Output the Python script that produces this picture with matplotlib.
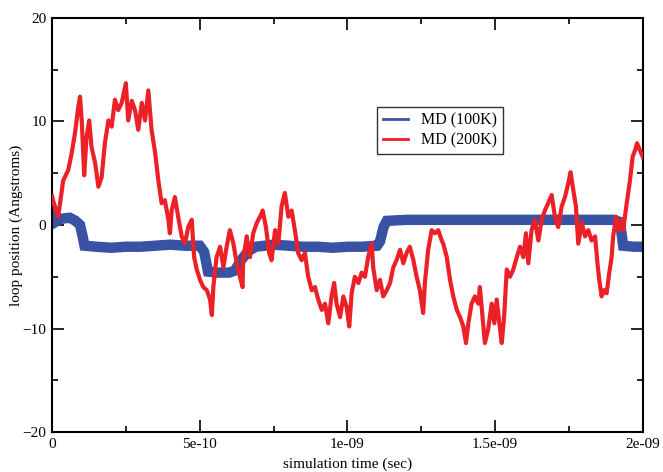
import matplotlib
matplotlib.use("Agg")
import matplotlib.pyplot as plt
from matplotlib.ticker import MultipleLocator, FixedLocator

plt.rcParams['font.family'] = ['Liberation Serif', 'DejaVu Serif']

# time in ps, loop position in Angstroms
t_200k = [0, 7, 21, 38, 55, 67, 78, 89, 95, 101, 109, 117, 126, 134, 146, 157,
          168, 179, 191, 202, 213, 224, 236, 250, 258, 270, 281, 292, 304, 315,
          326, 337, 349, 360, 371, 382, 394, 399, 405, 416, 427, 439, 450, 461,
          473, 481, 490, 501, 512, 524, 535, 541, 546, 557, 569, 580, 591, 602,
          614, 625, 636, 645, 647, 659, 670, 681, 693, 704, 713, 724, 735, 743,
          755, 766, 777, 788, 800, 811, 822, 833, 845, 856, 867, 879, 890, 901,
          913, 924, 935, 946, 955, 963, 975, 986, 997, 1006, 1014, 1025, 1037,
          1048, 1059, 1070, 1082, 1087, 1099, 1110, 1121, 1133, 1144, 1155, 1166,
          1178, 1189, 1200, 1211, 1223, 1234, 1245, 1256, 1262, 1273, 1285, 1296,
          1307, 1319, 1324, 1336, 1347, 1358, 1370, 1381, 1392, 1401, 1409, 1420,
          1431, 1443, 1448, 1457, 1465, 1476, 1488, 1497, 1505, 1514, 1522, 1530,
          1539, 1550, 1561, 1573, 1584, 1595, 1604, 1612, 1623, 1634, 1646, 1657,
          1668, 1679, 1691, 1702, 1713, 1725, 1736, 1747, 1755, 1764, 1773, 1781,
          1793, 1804, 1815, 1826, 1838, 1846, 1852, 1860, 1868, 1877, 1886, 1894,
          1899, 1909, 1916, 1928, 1933, 1945, 1956, 1965, 1973, 1980, 1990, 1999]
pos_200k = [2.8, 2.0, 0.8, 4.3, 5.3, 7.0, 8.9, 11.4, 12.4, 9.9, 4.8, 8.5, 10.1,
            7.5, 6.0, 3.7, 4.6, 7.9, 10.1, 9.5, 12.1, 11.1, 11.8, 13.7, 10.1,
            12.0, 11.1, 9.2, 11.8, 10.1, 13.0, 9.2, 7.0, 4.3, 2.1, 2.4, 0.5,
            -0.8, 1.4, 2.7, 0.8, -1.1, -1.8, -0.2, 0.5, -3.1, -4.3, -5.3, -6.0,
            -6.3, -7.2, -8.7, -6.0, -3.1, -2.1, -4.1, -2.1, -0.5, -1.8, -3.7,
            -5.0, -6.0, -3.4, -1.1, -3.1, -0.8, 0.2, 0.8, 1.4, -0.2, -2.7, -3.4,
            -0.5, -1.8, 1.8, 3.1, 0.8, 1.4, -0.5, -2.7, -3.4, -2.7, -5.0, -6.3,
            -6.0, -7.2, -8.2, -7.6, -9.5, -6.9, -5.6, -7.6, -8.9, -6.9, -7.9,
            -9.8, -6.6, -5.0, -5.6, -4.6, -5.0, -3.1, -1.8, -4.1, -6.3, -5.3,
            -6.9, -6.3, -5.6, -4.1, -3.4, -2.4, -3.7, -2.7, -2.1, -3.4, -5.0,
            -6.3, -8.5, -5.6, -2.4, -0.5, -0.8, -0.5, -1.5, -1.8, -3.1, -5.3,
            -6.9, -8.2, -8.9, -9.8, -11.4, -9.5, -7.6, -6.9, -7.6, -6.0, -8.9,
            -11.4, -10.1, -7.6, -9.5, -7.2, -9.5, -11.4, -8.9, -4.3, -5.0, -4.3,
            -3.1, -2.1, -3.1, -0.8, -3.7, -0.5, 0.5, -1.5, 0.5, 1.4, 2.1, 2.9,
            0.8, -0.2, 1.8, 2.7, 4.0, 5.1, 3.4, 1.8, -1.8, 0.2, -1.1, -0.5, -1.5,
            -1.1, -3.7, -5.3, -6.9, -6.3, -6.6, -4.6, -3.1, -1.1, 0.8, -0.5, 0.5,
            -0.5, 2.1, 4.3, 6.6, 7.2, 7.9, 7.2, 6.6]

t_100k = [0, 12, 30, 60, 80, 95, 103, 110, 150, 200, 250, 300, 350, 400, 450,
          500, 515, 528, 560, 600, 619, 640, 665, 690, 750, 800, 850, 900, 950,
          1000, 1050, 1100, 1110, 1122, 1133, 1200, 1300, 1400, 1500, 1600, 1700,
          1800, 1900, 1922, 1933, 1970, 2000]
pos_100k = [1.6, 0.3, 0.6, 0.7, 0.4, 0.0, -1.0, -2.0, -2.1, -2.2, -2.1, -2.1,
            -2.0, -1.9, -2.0, -2.0, -2.6, -4.5, -4.6, -4.6, -4.4, -3.4, -2.5,
            -2.1, -1.9, -2.0, -2.1, -2.1, -2.2, -2.1, -2.1, -2.0, -1.6, -0.2,
            0.4, 0.5, 0.5, 0.5, 0.5, 0.5, 0.5, 0.5, 0.5, 0.3, -2.0, -2.1, -2.1]

labels = ['MD (100K)', 'MD (200K)']
colors = ['#3953a4', '#ec2027']

fig = plt.figure(figsize=(6.63, 4.72), dpi=100)
ax = fig.add_axes([0.0784, 0.0847, 0.8914, 0.8772])

ax.plot([t * 1e-12 for t in t_100k], pos_100k, color=colors[0], lw=7.5,
        solid_joinstyle='miter', label=labels[0], zorder=2)
ax.plot([t * 1e-12 for t in t_200k], pos_200k, color=colors[1], lw=3.0,
        label=labels[1], zorder=3)

ax.set_xlim(0, 2e-9)
ax.set_ylim(-20, 20)
ax.xaxis.set_major_locator(FixedLocator([0, 5e-10, 1e-9, 1.5e-9, 2e-9]))
ax.set_xticklabels(['0', '5e-10', '1e-09', '1.5e-09', '2e-09'])
ax.xaxis.set_minor_locator(MultipleLocator(2.5e-10))
ax.yaxis.set_major_locator(MultipleLocator(10))
ax.yaxis.set_minor_locator(MultipleLocator(5))
ax.tick_params(which='both', direction='in', top=True, right=True,
               labelsize=11, width=1.2)
ax.tick_params(which='major', length=8.5, pad=4)
ax.tick_params(which='minor', length=4.3)
for s in ax.spines.values():
    s.set_linewidth(1.5)

ax.set_xlabel('simulation time (sec)', fontsize=11, labelpad=5)
ax.set_ylabel('loop position (Angstroms)', fontsize=11, labelpad=-0.5)

leg = ax.legend(loc='upper left', bbox_to_anchor=(0.55, 0.785),
                borderaxespad=0, fancybox=False, edgecolor='#333333',
                framealpha=1, fontsize=11.5, handlelength=1.6,
                handletextpad=0.8, borderpad=0.35, labelspacing=0.25)
leg.get_frame().set_linewidth(1.0)
for line in leg.get_lines():
    line.set_linewidth(2)

fig.savefig('out.png', dpi=100)
